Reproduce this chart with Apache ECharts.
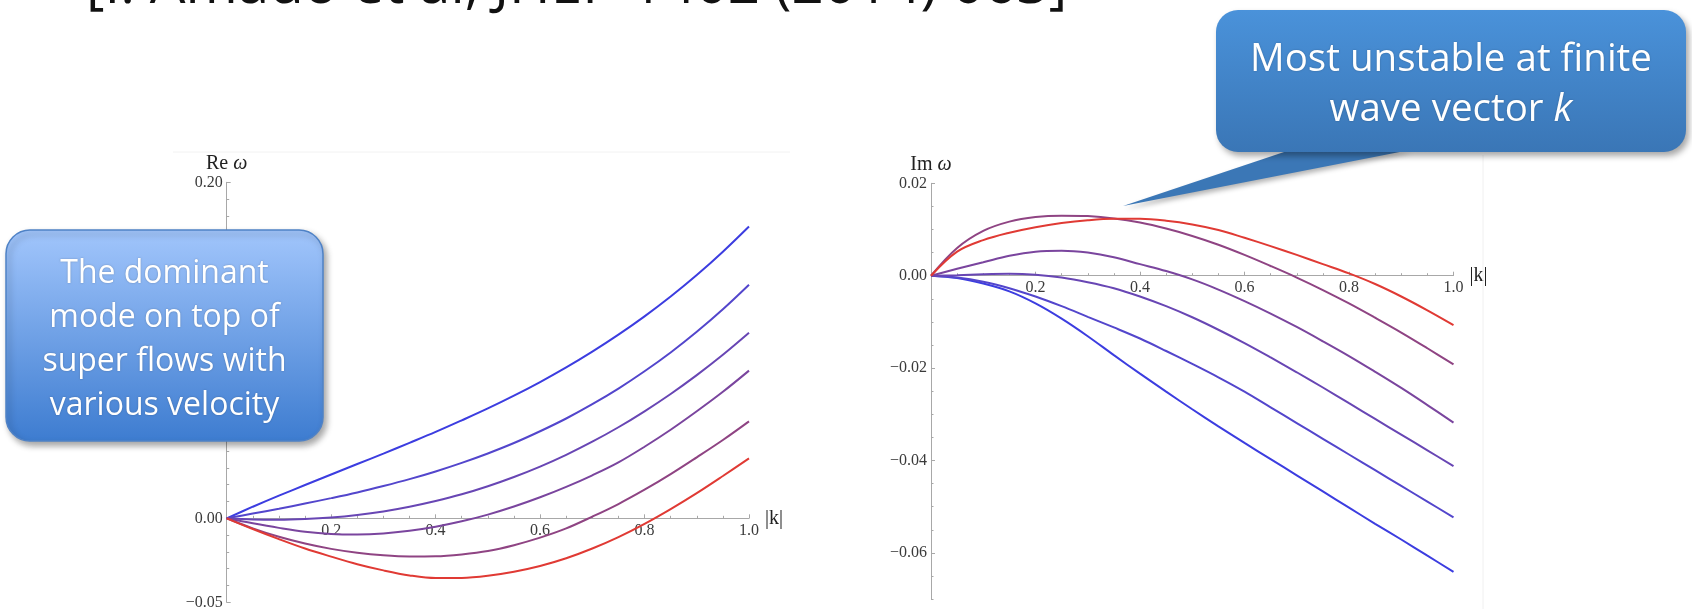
<!DOCTYPE html>
<html>
<head>
<meta charset="utf-8">
<script src="https://cdn.jsdelivr.net/npm/echarts@6/dist/echarts.min.js"></script>
<style>
html,body{margin:0;padding:0;background:#fff;}
#chart{width:1692px;height:609px;}
</style>
</head>
<body>
<div id="chart"></div>
<script>
// ---- data ----
const kValues = [0,0.05,0.1,0.15,0.2,0.25,0.3,0.35,0.4,0.45,0.5,0.55,0.6,0.65,0.7,0.75,0.8,0.85,0.9,0.95,1.0];

// Re omega (left panel), from blue (top) to red (bottom)
const re1 = [0,0.0069,0.0135,0.0198,0.0261,0.0323,0.0385,0.0449,0.0514,0.0583,0.0654,0.0730,0.0811,0.0898,0.0992,0.1093,0.1202,0.1320,0.1448,0.1587,0.1737];
const re2 = [0,0.0028,0.0057,0.0088,0.0120,0.0154,0.0192,0.0233,0.0279,0.0330,0.0386,0.0448,0.0518,0.0594,0.0679,0.0772,0.0875,0.0987,0.1110,0.1244,0.1390];
const re3 = [0,-0.0007,-0.0008,-0.0004,0.0005,0.0020,0.0041,0.0069,0.0103,0.0143,0.0191,0.0246,0.0308,0.0378,0.0456,0.0542,0.0637,0.0740,0.0852,0.0973,0.1104];
const re4 = [0,-0.0030,-0.0057,-0.0080,-0.0093,-0.0096,-0.0090,-0.0074,-0.0050,-0.0018,0.0022,0.0070,0.0125,0.0187,0.0256,0.0333,0.0426,0.0527,0.0637,0.0753,0.0879];
const re5 = [0,-0.0060,-0.0110,-0.0150,-0.0182,-0.0205,-0.0220,-0.0227,-0.0226,-0.0215,-0.0195,-0.0160,-0.0115,-0.0060,0.0010,0.0085,0.0170,0.0263,0.0363,0.0466,0.0577];
const re6 = [0,-0.0064,-0.0124,-0.0180,-0.0228,-0.0273,-0.0310,-0.0340,-0.0356,-0.0355,-0.0342,-0.0318,-0.0284,-0.0238,-0.0180,-0.0112,-0.0033,0.0055,0.0150,0.0252,0.0357];

// Im omega (right panel), same velocity order
const im1 = [0,-0.0005,-0.0017,-0.0034,-0.0060,-0.0093,-0.0131,-0.0172,-0.0212,-0.0251,-0.0289,-0.0326,-0.0362,-0.0397,-0.0432,-0.0467,-0.0502,-0.0537,-0.0571,-0.0606,-0.0641];
const im2 = [0,-0.0004,-0.0013,-0.0027,-0.0045,-0.0066,-0.0089,-0.0112,-0.0136,-0.0163,-0.0191,-0.0220,-0.0251,-0.0285,-0.0319,-0.0353,-0.0387,-0.0421,-0.0455,-0.0489,-0.0523];
const im3 = [0,0.0001,0.0003,0.0004,0.0002,-0.0004,-0.0014,-0.0027,-0.0045,-0.0066,-0.0090,-0.0117,-0.0146,-0.0177,-0.0209,-0.0242,-0.0276,-0.0310,-0.0344,-0.0378,-0.0412];
const im4 = [0,0.0015,0.0029,0.0043,0.0052,0.0054,0.0050,0.0040,0.0025,0.0010,-0.0008,-0.0030,-0.0055,-0.0082,-0.0111,-0.0142,-0.0174,-0.0208,-0.0243,-0.0280,-0.0318];
const im5 = [0,0.0060,0.0097,0.0117,0.0127,0.0130,0.0129,0.0124,0.0115,0.0102,0.0086,0.0067,0.0045,0.0021,-0.0004,-0.0031,-0.0060,-0.0091,-0.0123,-0.0157,-0.0192];
const im6 = [0,0.0052,0.0077,0.0093,0.0105,0.0114,0.0120,0.0123,0.0123,0.0119,0.0111,0.0099,0.0082,0.0064,0.0045,0.0025,0.0005,-0.0018,-0.0045,-0.0075,-0.0107];

const reSeries = [re1,re2,re3,re4,re5,re6];
const imSeries = [im1,im2,im3,im4,im5,im6];
const colors = ['#3c3de0','#5346cc','#6846b4','#7a459e','#8f4483','#e03a34'];

const xTicks = [0.2,0.4,0.6,0.8,1.0];
const reTickLabels = [-0.05,0,0.05,0.10,0.15,0.20];
const imTickLabels = [-0.06,-0.04,-0.02,0,0.02];

const titleText = '[I. Amado et al, JHEP 1402 (2014) 063]';
const leftNote = ['The dominant','mode on top of','super flows with','various velocity'];
const rightNote = ['Most unstable at finite','wave vector {i|k}'];

// ---- layout ----
const L = {left:226.7, top:182.3, width:522.3, height:420, yMin:-0.05, yMax:0.20};
const R = {left:931, top:183.3, width:522.5, height:415.8, yMin:-0.07, yMax:0.02};
function zeroOffset(g){ return -g.height * (0 - g.yMin) / (g.yMax - g.yMin); }

const chart = echarts.init(document.getElementById('chart'), null, {renderer:'canvas'});
const serif = '"Liberation Serif","DejaVu Serif",serif';
const axisGray = '#a8a8a8';
const labelColor = '#3a3a3a';

function pairs(arr){ return kValues.map((k,i)=>[k,arr[i]]); }
function fmt(v, d){ return (v < -1e-12 ? '\u2212' : '') + Math.abs(v).toFixed(d); }

function xAxisCfg(grid, g){
  return {
    type:'value', gridIndex:grid, position:'bottom', offset: zeroOffset(g), min:0, max:1, interval:0.2,
    name:'|k|', nameLocation:'end', nameGap:2,
    nameTextStyle:{fontFamily:serif, fontSize:20, color:'#222', verticalAlign:'middle', padding:[0,0,4,0]},
    axisLine:{show:true, onZero:false, lineStyle:{color:axisGray, width:1}},
    axisTick:{show:true, inside:true, length:4, lineStyle:{color:axisGray}},
    minorTick:{show:true, splitNumber:4, length:2.5, lineStyle:{color:axisGray}},
    splitLine:{show:false}, minorSplitLine:{show:false},
    axisLabel:{show:true, margin:4, fontFamily:serif, fontSize:16, color:labelColor,
      customValues: xTicks,
      formatter:(v)=> v.toFixed(1)}
  };
}

const nameStyle = {fontFamily:serif, fontSize:20, color:'#222', align:'center',
  rich:{i:{fontFamily:serif, fontSize:20, fontStyle:'italic', color:'#222'}}};

const option = {
  backgroundColor:'#ffffff',
  animation:false,
  grid:[
    {left:L.left, top:L.top, width:L.width, height:L.height, containLabel:false, outerBoundsMode:'none'},
    {left:R.left, top:R.top, width:R.width, height:R.height, containLabel:false, outerBoundsMode:'none'}
  ],
  xAxis:[ xAxisCfg(0,L), xAxisCfg(1,R) ],
  yAxis:[
    {
      type:'value', gridIndex:0, position:'left', min:L.yMin, max:L.yMax, interval:0.05,
      name:'Re {i|\u03c9}', nameLocation:'end', nameGap:9, nameTextStyle:nameStyle,
      axisLine:{show:true, onZero:false, lineStyle:{color:axisGray}},
      axisTick:{show:true, inside:true, length:4, lineStyle:{color:axisGray}},
      minorTick:{show:true, splitNumber:5, length:2.5, lineStyle:{color:axisGray}},
      splitLine:{show:false}, minorSplitLine:{show:false},
      axisLabel:{show:true, margin:4, fontFamily:serif, fontSize:16, color:labelColor,
        customValues: reTickLabels,
        formatter:(v)=>fmt(v,2)}
    },
    {
      type:'value', gridIndex:1, position:'left', min:R.yMin, max:R.yMax,
      name:'Im {i|\u03c9}', nameLocation:'end', nameGap:9, nameTextStyle:nameStyle,
      axisLine:{show:true, onZero:false, lineStyle:{color:axisGray}},
      axisTick:{show:true, inside:true, length:4, lineStyle:{color:axisGray}, customValues: imTickLabels},
      splitLine:{show:false},
      axisLabel:{show:true, margin:4, fontFamily:serif, fontSize:16, color:labelColor,
        customValues: imTickLabels,
        formatter:(v)=>fmt(v,2)}
    },
    {
      type:'value', gridIndex:1, position:'left', min:R.yMin, max:R.yMax, interval:0.005,
      axisLine:{show:false},
      axisTick:{show:true, inside:true, length:2.5, lineStyle:{color:axisGray}},
      axisLabel:{show:false}, splitLine:{show:false}
    }
  ],
  series: [],
  graphic: []
};

reSeries.forEach((arr,i)=>{
  option.series.push({type:'line', xAxisIndex:0, yAxisIndex:0, data:pairs(arr), smooth:0.35,
    showSymbol:false, symbol:'none', lineStyle:{color:colors[i], width:2}, z:2, silent:true});
});
imSeries.forEach((arr,i)=>{
  option.series.push({type:'line', xAxisIndex:1, yAxisIndex:1, data:pairs(arr), smooth:0.35,
    showSymbol:false, symbol:'none', lineStyle:{color:colors[i], width:2}, z:2, silent:true});
});

const noteFont = '"Open Sans","Noto Sans",sans-serif';
option.graphic = [
  // faint frame lines of the pasted figure
  {type:'line', shape:{x1:173,y1:152,x2:790,y2:152}, style:{stroke:'#f2f2f2', lineWidth:1}, z:1},
  {type:'line', shape:{x1:1483,y1:155,x2:1483,y2:609}, style:{stroke:'#f0f0f0', lineWidth:1}, z:1},
  // title (cut off at top)
  {type:'text', x:86, y:15, z:50,
    style:{text:titleText, font:'56.5px "Open Sans","Noto Sans",sans-serif', fill:'#111', verticalAlign:'bottom', align:'left'}},
  // left callout
  {type:'rect', z:60, shape:{x:6, y:230, width:317, height:211, r:24},
    style:{fill:new echarts.graphic.LinearGradient(0,0,0,1,[{offset:0,color:'#a2c6fc'},{offset:1,color:'#3d7cd0'}]),
      stroke:'#4f82c6', lineWidth:1.5, shadowBlur:6, shadowOffsetX:3, shadowOffsetY:4, shadowColor:'rgba(0,0,0,0.35)'}},
  {type:'text', z:61, x:164.5, y:339.7,
    style:{text:leftNote.join('\n'), font:'32px '+noteFont, fill:'#ffffff', align:'center', verticalAlign:'middle', lineHeight:44,
      textShadowBlur:2, textShadowColor:'rgba(0,0,0,0.25)'}},
  // right callout pointer
  {type:'polygon', z:59, shape:{points:[[1123,206],[1290,150],[1410,150]]},
    style:{fill:'#3b77b6', shadowBlur:5, shadowOffsetX:2, shadowOffsetY:3, shadowColor:'rgba(0,0,0,0.3)'}},
  {type:'rect', z:60, shape:{x:1216, y:10, width:470, height:142, r:22},
    style:{fill:new echarts.graphic.LinearGradient(0,0,0,1,[{offset:0,color:'#4a92da'},{offset:1,color:'#3a76b6'}]),
      shadowBlur:6, shadowOffsetX:3, shadowOffsetY:4, shadowColor:'rgba(0,0,0,0.35)'}},
  {type:'text', z:61, x:1451, y:85.5,
    style:{text:rightNote.join('\n'), font:'38.5px '+noteFont, fill:'#ffffff', align:'center', verticalAlign:'middle', lineHeight:50,
      rich:{i:{font:'italic 38.5px '+noteFont, fill:'#ffffff'}},
      textShadowBlur:2, textShadowColor:'rgba(0,0,0,0.25)'}}
];

chart.setOption(option);
</script>
</body>
</html>
